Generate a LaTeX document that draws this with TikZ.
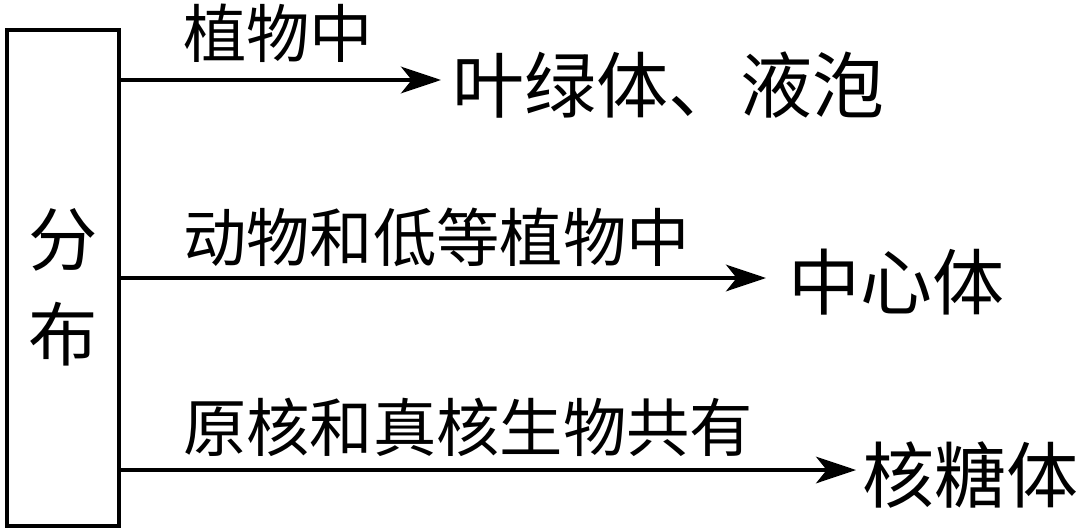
\documentclass[tikz,border=0pt]{standalone}
\usepackage{fontspec}
\newfontfamily\cjk{Noto Sans CJK SC}
\usetikzlibrary{arrows.meta}
\begin{document}
\begin{tikzpicture}[x=0.75pt,y=-0.75pt,
  boxst/.style={draw,line width=2.8pt,minimum width=112*0.75pt,minimum height=496*0.75pt,inner sep=0},
  arr/.style={line width=2.5pt,-{Stealth[length=30pt,width=20pt,inset=8pt]}},
  lbl/.style={anchor=west,inner sep=0,font=\cjk\fontsize{47.5}{50}\selectfont},
  tgt/.style={anchor=west,inner sep=0,font=\cjk\fontsize{54}{58}\selectfont},
  boxtxt/.style={inner sep=0,align=center,font=\cjk\fontsize{52}{71}\selectfont}]
\useasboundingbox (0,0) rectangle (1080,531);
\node[boxst] (box) at (63,278) {};
\node[boxtxt] (bt) at (63,287) {分\\布};
\node[lbl] (l1) at (183,33) {植物中};
\node[lbl] (l2) at (183,237) {动物和低等植物中};
\node[lbl] (l3) at (183,427) {原核和真核生物共有};
\node[tgt] (t1) at (452,85) {叶绿体、液泡};
\node[tgt] (t2) at (788,282) {中心体};
\node[tgt] (t3) at (862,475) {核糖体};
\coordinate (e1) at (441,80);
\coordinate (e2) at (766,278);
\coordinate (e3) at (856,470);
\draw[arr] (box.east |- e1) -- (e1);
\draw[arr] (box.east |- e2) -- (e2);
\draw[arr] (box.east |- e3) -- (e3);
\end{tikzpicture}
\end{document}
